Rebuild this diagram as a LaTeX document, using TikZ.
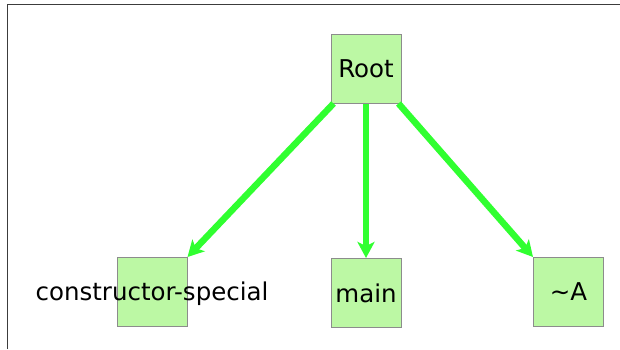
\documentclass[tikz,border=0pt]{standalone}
\usepackage{fontspec}
\setmainfont{DejaVu Sans}
\usetikzlibrary{arrows.meta}

\definecolor{boxfill}{RGB}{188,248,164}
\definecolor{boxline}{RGB}{140,140,140}
\definecolor{edgegreen}{RGB}{48,255,48}
\definecolor{framegray}{RGB}{60,60,60}

\tikzset{
  fnbox/.style={draw=boxline, fill=boxfill, line width=1pt,
    minimum width=70pt, minimum height=69pt, inner sep=0pt,
    font=\fontsize{24.5}{28}\selectfont},
  calledge/.style={draw=edgegreen, line width=6.5pt,
    -{Stealth[length=16pt, width=17pt, inset=4pt]}}
}

\begin{document}
\begin{tikzpicture}[x=1pt, y=-1pt]

  \useasboundingbox (0,0) rectangle (620,349);

  % ============================================================
  % Frame (only left and top edges are visible)
  % ============================================================
  \draw[framegray, line width=1.6pt] (7.5,349) -- (7.5,4.5) -- (620,4.5);

  % ============================================================
  % Call graph nodes
  % ============================================================
  \node[fnbox] (root) at (366,68.5) {Root};

  \node[fnbox, label={[font=\fontsize{24.5}{28}\selectfont, yshift=-1.5pt]center:constructor-special}]
    (ctor) at (152,292) {};
  \node[fnbox] (main) at (366,293) {main};
  \node[fnbox] (tilA) at (568.5,292) {\textasciitilde A};

  % ============================================================
  % Edges: Root calls each of its children
  % ============================================================
  \draw[calledge] ([xshift=3pt]root.south west) -- (ctor.north east);
  \draw[calledge] (root.south) -- (main.north);
  \draw[calledge] ([xshift=-3pt]root.south east) -- (tilA.north west);

\end{tikzpicture}
\end{document}
